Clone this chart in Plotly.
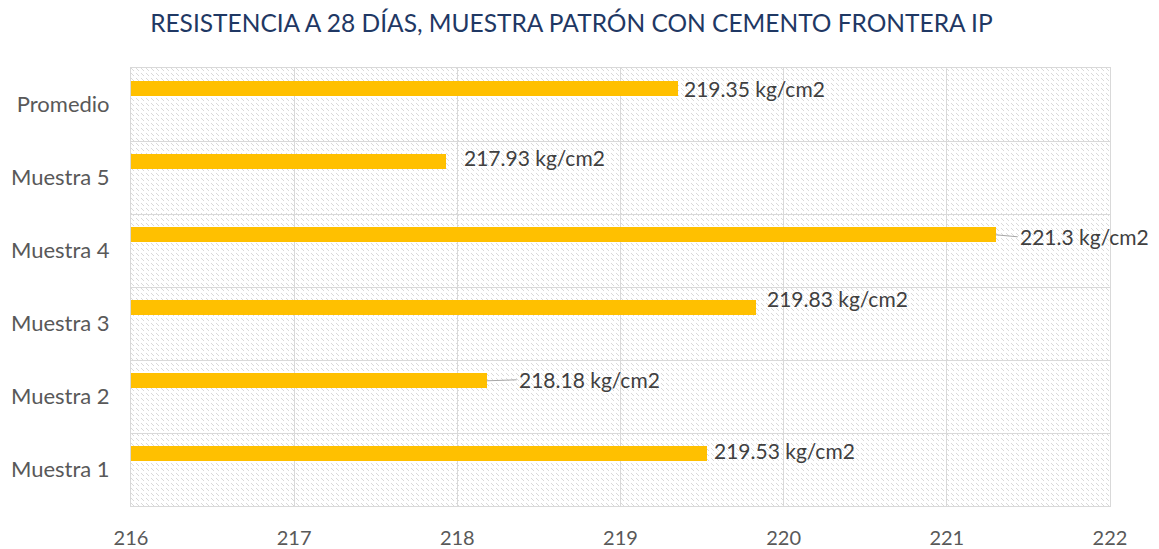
import base64
import plotly.graph_objects as go

# ---- data ----
categories = ["Muestra 1", "Muestra 2", "Muestra 3", "Muestra 4", "Muestra 5", "Promedio"]
resistencia = [219.53, 218.18, 219.83, 221.3, 217.93, 219.35]
unit = "kg/cm2"
x_ticks = [216, 217, 218, 219, 220, 221, 222]
title_text = "RESISTENCIA A 28 DÍAS, MUESTRA PATRÓN CON CEMENTO FRONTERA IP"

# ---- style ----
BAR_COLOR = "#FFC000"
GRID = "#d9d9d9"
TXT = "#595959"
LBL = "#404040"
FONT = "Lato"
bar_width = 0.21
bar_offset = 0.11
leader = [False, True, False, True, False, False]
label_gap = [5, 30, 9, 22, 16, 4]
label_dy = [3, 1, 9, -2, 4, 0]

W, H = 1159, 549
M = dict(l=131, r=49, t=68, b=43)
pw, ph = W - M["l"] - M["r"], H - M["t"] - M["b"]

svg = (
    f'<svg xmlns="http://www.w3.org/2000/svg" width="{pw}" height="{ph}" shape-rendering="crispEdges">'
    '<defs><pattern id="p" width="5" height="5" patternUnits="userSpaceOnUse">'
    '<rect width="5" height="5" fill="#ffffff"/>'
    '<rect x="0" y="0" width="1" height="1" fill="#d9d9d9"/>'
    '<rect x="1" y="1" width="1" height="1" fill="#d9d9d9"/>'
    '<rect x="2" y="2" width="1" height="1" fill="#d9d9d9"/>'
    '</pattern></defs>'
    f'<rect width="{pw}" height="{ph}" fill="url(#p)"/></svg>'
)
bg_src = "data:image/svg+xml;base64," + base64.b64encode(svg.encode()).decode()

fig = go.Figure()
fig.add_trace(go.Bar(
    y=categories, x=resistencia, orientation="h",
    width=bar_width, offset=bar_offset,
    marker=dict(color=BAR_COLOR, line=dict(width=0)),
    hoverinfo="x+y", showlegend=False,
))

annotations = []
for i, (c, v) in enumerate(zip(categories, resistencia)):
    yc = i + bar_offset + bar_width / 2
    txt = f"{v:g} {unit}"
    if leader[i]:
        annotations.append(dict(
            x=v, y=yc, xref="x", yref="y", text=txt,
            showarrow=True, ax=label_gap[i], ay=-label_dy[i], xanchor="left",
            arrowhead=0, arrowwidth=1, arrowcolor="#a6a6a6", standoff=0,
            font=dict(family=FONT, size=21, color=LBL),
        ))
    else:
        annotations.append(dict(
            x=v, y=yc, xref="x", yref="y", text=txt, showarrow=False,
            xanchor="left", xshift=label_gap[i], yshift=label_dy[i],
            font=dict(family=FONT, size=21, color=LBL),
        ))

fig.update_layout(
    width=W, height=H, margin=dict(M, autoexpand=False),
    paper_bgcolor="white", plot_bgcolor="rgba(0,0,0,0)",
    title=dict(text=title_text, x=0.493, xanchor="center", y=0.958, yanchor="middle",
               font=dict(family=FONT, size=24.5, color="#1F3864")),
    font=dict(family=FONT, size=22, color=TXT),
    annotations=annotations,
    images=[dict(source=bg_src, xref="x domain", yref="y domain", x=0, y=1,
                 sizex=1, sizey=1, xanchor="left", yanchor="top",
                 sizing="stretch", layer="below")],
    bargap=0,
)
fig.update_xaxes(range=[216, 222], tickvals=x_ticks, showgrid=True, gridcolor=GRID,
                 gridwidth=1, zeroline=False, showline=True, linecolor=GRID, mirror=True,
                 automargin=False,
                 ticks="", ticklabelstandoff=14, tickfont=dict(family=FONT, size=20, color=TXT))
fig.update_yaxes(type="category", categoryorder="array", categoryarray=categories,
                 tickson="boundaries", showgrid=True, gridcolor=GRID, gridwidth=1,
                 showline=True, linecolor=GRID, mirror=True, ticks="", automargin=False,
                 ticklabelstandoff=16, tickfont=dict(family=FONT, size=22, color=TXT))

fig.write_html(
    "out.html",
    config={"displayModeBar": False},
    post_script="document.body.style.margin='0';document.body.style.overflow='hidden';",
)
